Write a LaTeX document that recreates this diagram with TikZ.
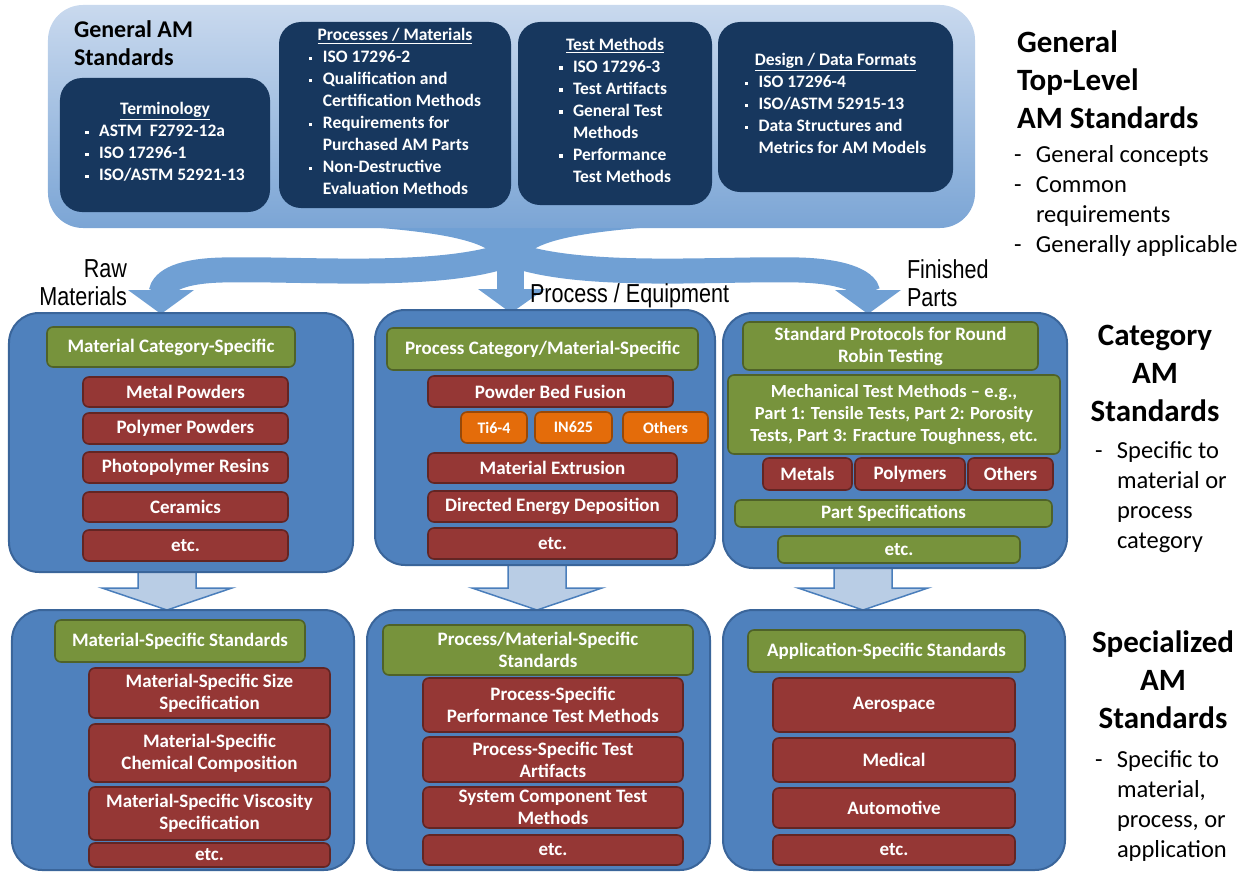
\documentclass[tikz,border=0pt]{standalone}
\usepackage{fontspec}
\setmainfont{Carlito}
\newfontfamily\labelfont[FakeStretch=0.83]{Liberation Sans}
\usetikzlibrary{calc}
\pgfdeclarelayer{bg}
\pgfsetlayers{bg,main}

\definecolor{navy}{HTML}{17375E}
\definecolor{catfill}{HTML}{4F81BD}
\definecolor{catline}{HTML}{3A659A}
\definecolor{grn}{HTML}{77933C}
\definecolor{grnline}{HTML}{4F6228}
\definecolor{rd}{HTML}{953735}
\definecolor{rdline}{HTML}{632523}
\definecolor{orng}{HTML}{E46C0A}
\definecolor{orngline}{HTML}{984807}
\definecolor{flowfill}{HTML}{70A0D4}
\definecolor{genTop}{HTML}{C9D9EE}
\definecolor{genBot}{HTML}{7BA5D5}
\definecolor{rowfill}{HTML}{B9CDE5}
\definecolor{rowline}{HTML}{4A7EBB}

% square bullet and hanging indent for the list boxes
\newcommand\bul{\makebox[14bp][l]{\rule[0.15em]{3.5bp}{3.5bp}}}
\newcommand\cont{\hspace*{14bp}}

% box given by its corners (x1,y1) (x2,y2), y measured downwards
\newcommand\rbox[8][]{%
  \pgfmathsetmacro\rbW{#6-#4}\pgfmathsetmacro\rbH{#7-#5}%
  \node[#2,minimum width=\rbW bp,minimum height=\rbH bp,#1] (#3) at ({(#4+#6)/2},{(#5+#7)/2}) {#8};}

% light block arrow from one row box down to the next
\newcommand\rowarrow[3]{%
  \draw[rowarr] let \p1=(#1.south), \p2=(#2.north) in
    ({#3bp-29bp},{\y1+2bp}) -- ({#3bp-29bp},{\y2+22bp}) -- ({#3bp-65bp},{\y2+22bp})
    -- ({#3bp},{\y2}) -- ({#3bp+65bp},{\y2+22bp}) -- ({#3bp+29bp},{\y2+22bp})
    -- ({#3bp+29bp},{\y1+2bp}) -- cycle;}

\tikzset{
  every node/.style={inner sep=0pt, outer sep=0pt},
  navybox/.style={fill=navy, rounded corners=22bp, text=white, align=center,
    font=\bfseries\fontsize{17.5bp}{22bp}\selectfont},
  catbox/.style={fill=catfill, draw=catline, line width=2bp, rounded corners=30bp},
  greenbox/.style={fill=grn, draw=grnline, line width=1.6bp, rounded corners=6bp,
    text=white, align=center, font=\bfseries\fontsize{19bp}{22bp}\selectfont},
  redbox/.style={greenbox, fill=rd, draw=rdline},
  orangebox/.style={greenbox, fill=orng, draw=orngline,
    font=\bfseries\fontsize{16bp}{20bp}\selectfont},
  rowarr/.style={fill=rowfill, draw=rowline, line width=1.5bp, line join=miter},
  flow/.style={fill=flowfill},
  branch/.style={draw=flowfill, line width=25bp},
  lbl/.style={font=\labelfont\fontsize{26bp}{28bp}\selectfont},
  heading/.style={font=\bfseries\fontsize{31bp}{38bp}\selectfont, align=center},
  note/.style={font=\fontsize{24.5bp}{30bp}\selectfont},
}

\begin{document}
\begin{tikzpicture}[x=1bp,y=-1bp]
\useasboundingbox (0,0) rectangle (1245,874);

% ---------- general standards ----------
\node[top color=genTop, bottom color=genBot, rounded corners=35bp,
      minimum width=927bp, minimum height=223bp] (gen) at (511.5,116.5) {};
\node[anchor=west, align=left, font=\bfseries\fontsize{24bp}{28bp}\selectfont]
  (genLabel) at (74,43) {General AM\\Standards};

\rbox{navybox}{term}{60}{78}{270}{212}{\underline{Terminology}\\
  \begin{tabular}[t]{@{}l@{}}\bul ASTM~~F2792-12a\\\bul ISO 17296-1\\\bul ISO/ASTM 52921-13\end{tabular}}
\rbox{navybox}{procmat}{279}{22}{511}{208}{\underline{Processes / Materials}\\
  \begin{tabular}[t]{@{}l@{}}\bul ISO 17296-2\\\bul Qualification and\\\cont Certification Methods\\
  \bul Requirements for\\\cont Purchased AM Parts\\\bul Non-Destructive\\\cont Evaluation Methods\end{tabular}}
\rbox{navybox}{testm}{518}{22}{712}{205}{\underline{Test Methods}\\
  \begin{tabular}[t]{@{}l@{}}\bul ISO 17296-3\\\bul Test Artifacts\\\bul General Test\\\cont Methods\\
  \bul Performance\\\cont Test Methods\end{tabular}}
\rbox{navybox}{design}{718}{22}{953}{192}{\underline{Design / Data Formats}\\
  \begin{tabular}[t]{@{}l@{}}\bul ISO 17296-4\\\bul ISO/ASTM 52915-13\\\bul Data Structures and\\
  \cont Metrics for AM Models\end{tabular}}

% ---------- category standards ----------
\rbox{catbox}{catL}{9}{313}{353}{572}{}
\rbox{greenbox}{catLhead}{47}{327}{295}{367}{Material Category-Specific}
\rbox{redbox}{metalpow}{83}{377}{288}{407}{Metal Powders}
\rbox{redbox}{polypow}{83}{413}{288}{444}{Polymer Powders}
\rbox{redbox}{photores}{83}{452}{288}{483}{Photopolymer Resins}
\rbox{redbox}{ceramics}{83}{492}{288}{522}{Ceramics}
\rbox{redbox}{catLetc}{83}{530}{288}{561}{etc.}

\rbox{catbox}{catM}{375}{310}{715}{565}{}
\rbox{greenbox}{catMhead}{387}{328}{698}{370}{Process Category/Material-Specific}
\rbox{redbox}{pbf}{428}{376}{673}{407}{Powder Bed Fusion}
\rbox{orangebox}{ti64}{461}{412}{527}{443}{Ti6-4}
\rbox{orangebox}{in625}{535}{412}{612}{443}{IN625}
\rbox{orangebox}{pbfother}{623}{412}{708}{443}{Others}
\rbox{redbox}{matext}{428}{453}{677}{483}{Material Extrusion}
\rbox{redbox}{ded}{428}{491}{677}{522}{Directed Energy Deposition}
\rbox{redbox}{catMetc}{428}{528}{677}{559}{etc.}

\rbox{catbox}{catR}{723}{313}{1067}{568}{}
\rbox{greenbox}{roundrobin}{743}{322}{1038}{370}{Standard Protocols for Round\\Robin Testing}
\rbox[font=\bfseries\fontsize{18.5bp}{22bp}\selectfont]{greenbox}{mech}{728}{375}{1060}{454}{Mechanical Test Methods – e.g.,\\Part 1: Tensile Tests, Part 2: Porosity\\Tests, Part 3: Fracture Toughness, etc.}
\rbox{redbox}{metals}{763}{458}{852}{490}{Metals}
\rbox{redbox}{polymers}{855}{458}{965}{490}{Polymers}
\rbox{redbox}{mechother}{968}{458}{1053}{490}{Others}
\rbox{greenbox}{partspec}{735}{500}{1052}{527}{Part Specifications}
\rbox{greenbox}{catRetc}{778}{536}{1020}{563}{etc.}

% ---------- specialized standards ----------
\rbox{catbox}{specL}{12}{610}{354}{870}{}
\rbox{greenbox}{specLhead}{55}{620}{305}{662}{Material-Specific Standards}
\rbox{redbox}{sizespec}{89}{668}{330}{718}{Material-Specific Size\\Specification}
\rbox{redbox}{chemcomp}{89}{724}{330}{782}{Material-Specific\\Chemical Composition}
\rbox{redbox}{viscspec}{89}{787}{330}{840}{Material-Specific Viscosity\\Specification}
\rbox{redbox}{specLetc}{89}{843}{330}{867}{etc.}

\rbox{catbox}{specM}{367}{610}{710}{870}{}
\rbox{greenbox}{specMhead}{383}{625}{693}{675}{Process/Material-Specific\\Standards}
\rbox{redbox}{perftest}{423}{678}{683}{732}{Process-Specific\\Performance Test Methods}
\rbox{redbox}{artifacts}{423}{737}{683}{782}{Process-Specific Test\\Artifacts}
\rbox{redbox}{syscomp}{423}{787}{683}{828}{System Component Test\\Methods}
\rbox{redbox}{specMetc}{423}{835}{683}{865}{etc.}

\rbox{catbox}{specR}{723}{610}{1065}{870}{}
\rbox{greenbox}{specRhead}{748}{630}{1025}{672}{Application-Specific Standards}
\rbox{redbox}{aero}{773}{678}{1015}{732}{Aerospace}
\rbox{redbox}{medical}{773}{738}{1015}{782}{Medical}
\rbox{redbox}{auto}{773}{788}{1015}{828}{Automotive}
\rbox{redbox}{specRetc}{773}{835}{1015}{865}{etc.}

% ---------- flow from the general box into the three branches ----------
\coordinate (tipL) at (161,314);
\coordinate (tipM) at (511,313);
\coordinate (tipR) at (868,314);
\begin{pgfonlayer}{bg}
  \fill[flow] (230,220) .. controls (400,226) and (472,234) .. (494,254)
    -- (527,254) .. controls (549,234) and (620,226) .. (790,220) -- cycle;
  \fill[flow] (497,245) rectangle (524,291);
  \fill[flow] (478,289) -- (545,289) -- (tipM) -- cycle;
  \draw[branch] (510,254) .. controls (440,280) and (300,268) .. (222,270)
    .. controls (182,271) and (163,280) .. (161,293);
  \fill[flow] (128,290) -- (194,290) -- (tipL) -- cycle;
  \draw[branch] (511,254) .. controls (581,280) and (721,268) .. (799,270)
    .. controls (839,271) and (866,280) .. (868,293);
  \fill[flow] (835,290) -- (901,290) -- (tipR) -- cycle;

  \rowarrow{catL}{specL}{167}
  \rowarrow{catM}{specM}{537}
  \rowarrow{catR}{specR}{863}
\end{pgfonlayer}

\node[lbl, anchor=east, align=right] (rawlbl) at (127,283) {Raw\\Materials};
\node[lbl, anchor=west] (proclbl) at (530,296) {Process / Equipment};
\node[lbl, anchor=west, align=left] (finlbl) at (907,283) {Finished\\Parts};

% ---------- level captions on the right ----------
\node[heading, anchor=west, align=left] (genTitle) at (1017,80) {General\\Top-Level\\AM Standards};
\node[note, anchor=west] (genNotes) at (1014,201)
  {\begin{tabular}{@{}p{22bp}@{}l@{}}-&General concepts\\-&Common\\&requirements\\-&Generally applicable\end{tabular}};
\node[heading] (catTitle) at (1155,373) {Category\\AM\\Standards};
\node[note, anchor=west] (catNotes) at (1095,497)
  {\begin{tabular}{@{}p{22bp}@{}l@{}}-&Specific to\\&material or\\&process\\&category\end{tabular}};
\node[heading] (specTitle) at (1163,680) {Specialized\\AM\\Standards};
\node[note, anchor=west] (specNotes) at (1095,806)
  {\begin{tabular}{@{}p{22bp}@{}l@{}}-&Specific to\\&material,\\&process, or\\&application\end{tabular}};
\end{tikzpicture}
\end{document}
